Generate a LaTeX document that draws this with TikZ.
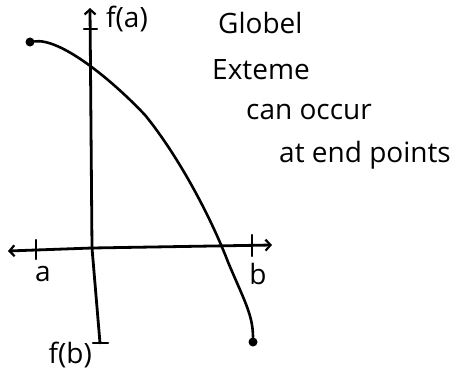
\documentclass[tikz,border=0pt]{standalone}
\usepackage{fontspec}
\setmainfont{Open Sans}
\usetikzlibrary{arrows.meta, positioning}

\begin{document}
\begin{tikzpicture}[x=1pt, y=-1pt,
  axis/.style={draw=black, line width=2.8pt, line cap=round},
  barb/.tip={Straight Barb[length=5pt, width=11pt, line width=2.2pt]},
  curve/.style={draw=black, line width=2.6pt, line cap=round, line join=round},
  tick/.style={draw=black, line width=2.4pt, line cap=round},
  dot/.style={circle, fill=black, inner sep=0pt, minimum size=9pt},
  hand/.style={font=\fontsize{28}{32}\selectfont, inner sep=0pt}]
  \useasboundingbox (0,0) rectangle (455,370);
  % axes
  \coordinate (ytop) at (90,8);
  \coordinate (origin) at (92,248);
  \coordinate (ybot) at (100,343);
  \coordinate (xleft) at (8,251);
  \coordinate (xright) at (272,245);
  \draw[axis, barb-] (ytop) -- (origin) -- (ybot);
  \draw[axis, barb-barb] (xleft) -- (origin) -- (xright);
  % ticks
  \draw[tick] (84,29) -- (97,29);
  \draw[tick] (93,343) -- (108,343);
  \draw[tick] (36,240) -- (36,259);
  \draw[tick] (252,235) -- (252,256);
  % labels
  \node[hand, anchor=west] (fa) at (106,19) {f(a)};
  \node[hand, anchor=east] (fb) at (92,355) {f(b)};
  \node[hand] (a) at (43,274) {a};
  \node[hand] (b) at (258,274) {b};
  % the function
  \node[dot] (start) at (30,42) {};
  \node[dot] (stop) at (253,342) {};
  \draw[curve] (start) .. controls (60,38) and (110,78) .. (145,115)
    .. controls (180,158) and (212,220) .. (228,262)
    .. controls (244,300) and (253,315) .. (stop);
  % note
  \node[hand, anchor=west] (n1) at (218,23) {Globel};
  \node[hand, anchor=west] (n2) at (212,70) {Exteme};
  \node[hand, anchor=west] (n3) at (246,112) {can occur};
  \node[hand, anchor=west] (n4) at (279,155) {at end points};
\end{tikzpicture}
\end{document}
